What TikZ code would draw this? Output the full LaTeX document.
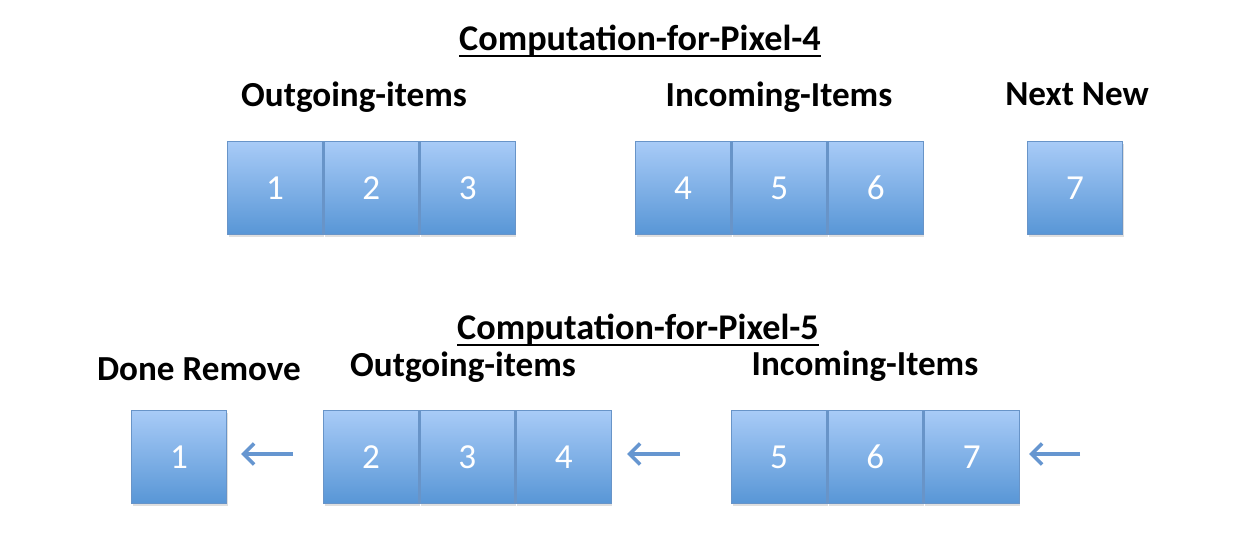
\documentclass[tikz,border=0pt]{standalone}
\usepackage{fontspec}
\setmainfont{Carlito}
\usetikzlibrary{positioning, arrows.meta, shadows}
\newcommand{\ulthick}[1]{\setbox0\hbox{#1}%
    \rlap{\raisebox{-3.4pt}{\rule{\wd0}{1.1pt}}}\box0}
\definecolor{celltop}{RGB}{168,203,247}
\definecolor{cellbot}{RGB}{88,150,214}
\definecolor{celledge}{RGB}{104,148,200}
\definecolor{arrowblue}{RGB}{102,150,208}
\tikzset{
    cell/.style={draw=celledge, line width=.8pt, top color=celltop,
        bottom color=cellbot, minimum width=1.9cm, minimum height=1.86cm,
        inner sep=0pt, text=white, font=\fontsize{20}{24}\selectfont,
        drop shadow={opacity=.25, shadow xshift=.6pt, shadow yshift=-1.2pt}},
    heading/.style={font=\fontsize{20}{24}\selectfont\bfseries, inner sep=0pt},
    title/.style={heading, font=\fontsize{20.6}{24}\selectfont\bfseries},
    moveleft/.style={arrowblue, line width=2.1pt,
        -{Straight Barb[length=6pt, width=12pt]}},
}

\begin{document}
\begin{tikzpicture}[x=.02cm, y=-.02cm]
    \useasboundingbox (0, 0) rectangle (1256, 540); % Pixel frame

    % Pixel 4
    \node[title] (title4) at (640, 41) {\ulthick{Computation-for-Pixel-4}};
    \node[heading] (out4) at (354, 97) {Outgoing-items};
    \node[heading] (in4) at (779, 97) {Incoming-Items};
    \node[heading] (next4) at (1077, 94) {Next New};

    \node[cell] (t1) at (275, 188) {1};
    \node[cell, right=0pt of t1] (t2) {2};
    \node[cell, right=0pt of t2] (t3) {3};

    \node[cell] (t4) at (683, 188) {4};
    \node[cell, right=0pt of t4] (t5) {5};
    \node[cell, right=0pt of t5] (t6) {6};

    \node[cell] (t7) at (1075, 188) {7};

    % Pixel 5
    \node[title] (title5) at (638, 330) {\ulthick{Computation-for-Pixel-5}};
    \node[heading] (done5) at (199, 369) {Done Remove};
    \node[heading] (out5) at (463, 367) {Outgoing-items};
    \node[heading] (in5) at (865, 366) {Incoming-Items};

    \node[cell] (b1) at (179, 457) {1};

    \node[cell] (b2) at (371, 457) {2};
    \node[cell, right=0pt of b2] (b3) {3};
    \node[cell, right=0pt of b3] (b4) {4};

    \node[cell] (b5) at (779, 457) {5};
    \node[cell, right=0pt of b5] (b6) {6};
    \node[cell, right=0pt of b6] (b7) {7};

    % Shift arrows, tails are free
    \coordinate (tip1) at (241, 454);
    \coordinate (tail1) at (293, 454);
    \coordinate (tip2) at (627, 454);
    \coordinate (tail2) at (680, 454);
    \coordinate (tip3) at (1029, 454);
    \coordinate (tail3) at (1080, 454);
    \foreach \i in {1, 2, 3}
        \draw[moveleft] (tail\i) -- (tip\i);
\end{tikzpicture}
\end{document}
